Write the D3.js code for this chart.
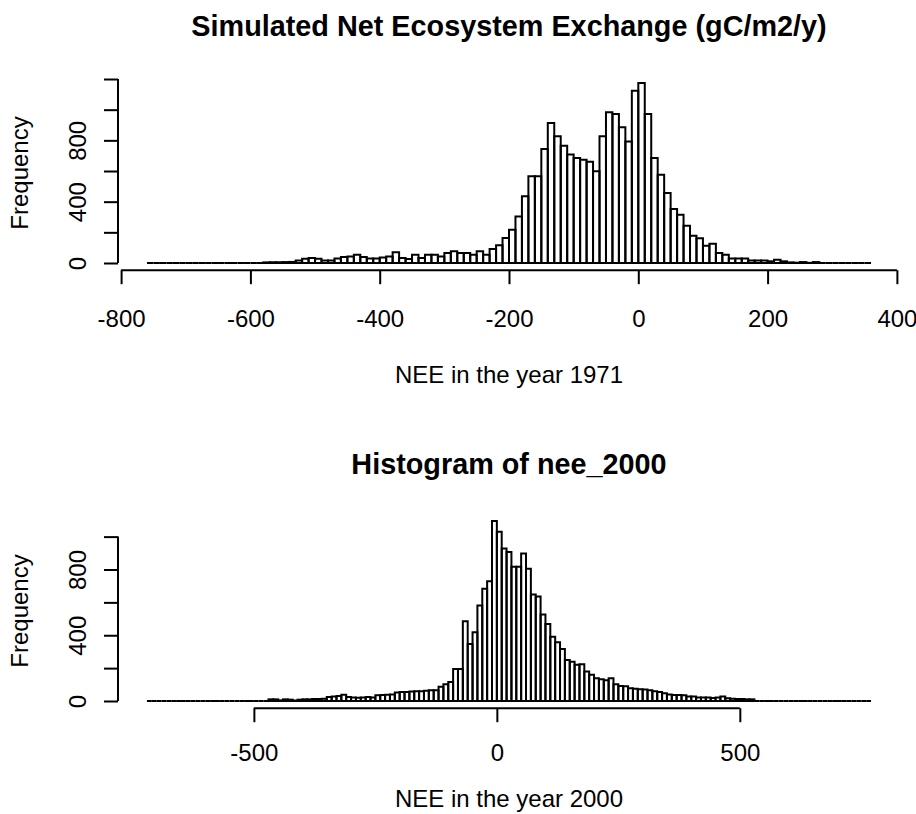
<!DOCTYPE html>
<html>
<head>
<meta charset="utf-8">
<script src="https://cdn.jsdelivr.net/npm/d3@7"></script>
<style>
body { margin: 0; background: #fff; }
svg { display: block; font-family: "Liberation Sans", Arial, sans-serif; }
</style>
</head>
<body>
<script>
// bin counts (10 gC/m2/y wide bins)
const binWidth = 10;

const nee1971Start = -760;
const nee1971Counts = [
  0, 0, 0, 0, 0, 0, 0, 0, 0, 0,
  0, 0, 0, 0, 0, 0, 0, 0, 4, 5,
  5, 6, 7, 17, 28, 33, 28, 17, 17, 30,
  39, 43, 54, 39, 30, 30, 36, 43, 70, 33,
  26, 54, 33, 54, 54, 43, 65, 76, 65, 65,
  54, 76, 54, 91, 115, 163, 217, 304, 435, 565,
  565, 743, 913, 826, 765, 707, 685, 674, 661, 598,
  826, 983, 972, 885, 793, 1124, 1174, 972, 685, 576,
  457, 352, 315, 243, 178, 161, 113, 126, 65, 54,
  30, 30, 30, 17, 17, 17, 11, 22, 11, 4,
  2, 6, 1, 6, 0, 0, 0, 0, 0, 0,
  0, 0
];

const nee2000Start = -720;
const nee2000Counts = [
  0, 0, 0, 0, 0, 0, 0, 0, 0, 0,
  0, 0, 0, 0, 0, 0, 0, 0, 0, 0,
  0, 0, 0, 0, 0,
  10, 10, 4, 10, 8, 3, 8, 10, 10, 12,
  12, 14, 25, 27, 30, 38, 25, 22, 20, 22,
  24, 22, 35, 37, 38, 40, 52, 55, 55, 58,
  60, 60, 62, 65, 65, 86, 102, 116, 194, 194,
  485, 347, 418, 581, 683, 728, 1095, 1030, 928, 907,
  816, 816, 897, 805, 648, 636, 526, 469, 391, 357,
  316, 249, 239, 220, 224, 179, 159, 139, 133, 126,
  139, 102, 92, 90, 78, 75, 72, 70, 65, 60,
  55, 47, 40, 37, 37, 35, 27, 27, 22, 22,
  22, 18, 22, 27, 16, 14, 12, 12, 10, 10,
  0, 0, 0, 0, 0, 0, 0, 0, 0, 0,
  0, 0, 0, 0, 0, 0, 0, 0, 0, 0,
  0, 0, 0, 0
];

const nee1971XTicks = [-800, -600, -400, -200, 0, 200, 400];
const nee1971YTicks = [0, 200, 400, 600, 800, 1000, 1200];
const nee2000XTicks = [-500, 0, 500];
const nee2000YTicks = [0, 200, 400, 600, 800, 1000];
const yLabelled = [0, 400, 800];

const w = 916, h = 814;
const left = 118, right = 900, plotH = 194.4;

const svg = d3.select("body").append("svg")
  .attr("width", w)
  .attr("height", h);

function drawHist(o) {
  const plotTop = o.top, plotBottom = o.top + plotH;
  const bins = o.counts.map((c, i) => ({ x0: o.start + i * binWidth, x1: o.start + (i + 1) * binWidth, n: c }));
  const xMin = bins[0].x0, xMax = bins[bins.length - 1].x1;
  const xPad = (xMax - xMin) * 0.04;
  const maxN = d3.max(o.counts);

  // R style: 4% extension on both scales
  const x = d3.scaleLinear().domain([xMin - xPad, xMax + xPad]).range([left, right]);
  const y = d3.scaleLinear().domain([-0.04 * maxN, 1.04 * maxN]).range([plotBottom, plotTop]);

  const g = svg.append("g");

  g.selectAll("path.bar")
    .data(bins)
    .join("path")
    .attr("class", "bar")
    .attr("d", d => `M${x(d.x0)},${y(0)}V${y(d.n)}H${x(d.x1)}V${y(0)}Z`)
    .attr("fill", "none")
    .attr("stroke", "#000")
    .attr("stroke-width", 2);

  const xAxis = d3.axisBottom(x).tickValues(o.xTicks).tickSize(14).tickFormat(d => String(d));
  g.append("g")
    .attr("transform", `translate(0,${plotBottom})`)
    .call(xAxis)
    .call(a => {
      a.attr("font-size", null).attr("font-family", null);
      a.select(".domain").attr("d", `M${x(o.xTicks[0])},0H${x(o.xTicks[o.xTicks.length - 1])}`);
      a.selectAll("line, path").attr("stroke", "#000").attr("stroke-width", 2);
      a.selectAll("text").attr("y", o.labOff).attr("dy", "0.35em")
        .style("font-size", "24px").attr("fill", "#000");
    });

  const yAxis = d3.axisLeft(y).tickValues(o.yTicks).tickSize(14)
    .tickFormat(d => yLabelled.includes(d) ? String(d) : "");
  g.append("g")
    .attr("transform", `translate(${left},0)`)
    .call(yAxis)
    .call(a => {
      a.attr("font-size", null).attr("font-family", null);
      a.select(".domain").attr("d", `M0,${y(o.yTicks[0])}V${y(o.yTicks[o.yTicks.length - 1])}`);
      a.selectAll("line, path").attr("stroke", "#000").attr("stroke-width", 2);
      a.selectAll("text")
        .attr("x", 0).attr("dy", "0.35em")
        .attr("transform", "translate(-40,0) rotate(-90)")
        .attr("text-anchor", "middle")
        .style("font-size", "24px").attr("fill", "#000");
    });

  svg.append("text")
    .attr("x", (left + right) / 2)
    .attr("y", plotTop - 50)
    .attr("dy", "0.35em")
    .attr("text-anchor", "middle")
    .style("font-size", "28.8px")
    .style("font-weight", "bold")
    .text(o.title);

  svg.append("text")
    .attr("x", (left + right) / 2)
    .attr("y", plotBottom + o.xlabOff)
    .attr("dy", "0.35em")
    .attr("text-anchor", "middle")
    .style("font-size", "24px")
    .text(o.xLabel);

  svg.append("text")
    .attr("transform", `translate(20,${(plotTop + plotBottom) / 2}) rotate(-90)`)
    .attr("dy", "0.35em")
    .attr("text-anchor", "middle")
    .style("font-size", "24px")
    .text("Frequency");
}

drawHist({
  start: nee1971Start, counts: nee1971Counts,
  xTicks: nee1971XTicks, yTicks: nee1971YTicks,
  top: 75.8, labOff: 48, xlabOff: 104,
  title: "Simulated Net Ecosystem Exchange (gC/m2/y)",
  xLabel: "NEE in the year 1971"
});

drawHist({
  start: nee2000Start, counts: nee2000Counts,
  xTicks: nee2000XTicks, yTicks: nee2000YTicks,
  top: 513.8, labOff: 44, xlabOff: 90,
  title: "Histogram of nee_2000",
  xLabel: "NEE in the year 2000"
});
</script>
</body>
</html>
